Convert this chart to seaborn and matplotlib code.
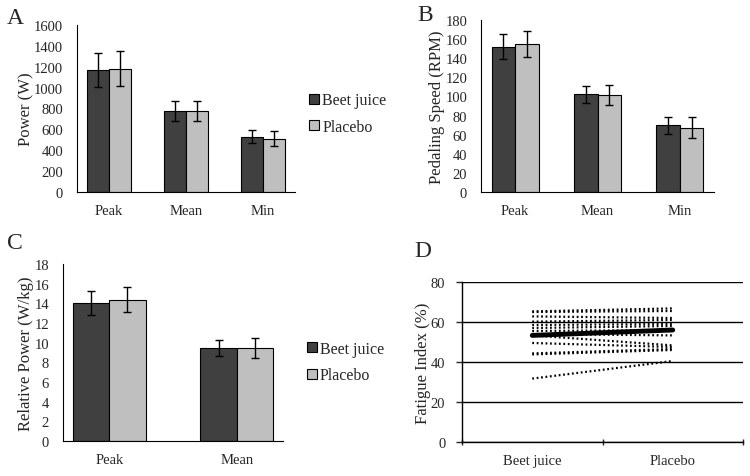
import numpy as np
import pandas as pd
import seaborn as sns
import matplotlib.pyplot as plt
from matplotlib.patches import Patch

# bar panel data (means and SD)
conditions = ['Beet juice', 'Placebo']
power_cats = ['Peak', 'Mean', 'Min']
power_beet = [1170, 780, 530]
power_plac = [1183, 775, 510]
power_beet_err = [165, 96, 65]
power_plac_err = [164, 98, 70]

speed_beet = [152, 102.4, 69.6]
speed_plac = [155, 102, 67.2]
speed_beet_err = [13, 9, 9.2]
speed_plac_err = [14, 10.5, 11]

rel_cats = ['Peak', 'Mean']
rel_beet = [14.07, 9.47]
rel_plac = [14.38, 9.44]
rel_beet_err = [1.22, 0.83]
rel_plac_err = [1.3, 1.0]

# fatigue index, individual subjects
fi_beet = [65.3, 65.0, 62.8, 60.2, 58.5, 57.0, 55.5, 54.0, 53.3, 49.5, 44.3, 43.8, 31.7]
fi_plac = [66.8, 65.5, 62.0, 61.0, 59.0, 58.0, 56.0, 53.3, 48.3, 47.5, 46.5, 46.0, 40.5]
fi_mean = [53.3, 56.0]

sns.set_style("white")
plt.rcParams['font.family'] = ['Liberation Serif', 'DejaVu Serif']
plt.rcParams['font.size'] = 10.5

dark = '#404040'
light = '#bfbfbf'
W, H = 750, 477

fig = plt.figure(figsize=(7.5, 4.77), dpi=100)


def box(l, r, t, b):
    return [l / W, (H - b) / H, (r - l) / W, (b - t) / H]


def bar_panel(ax, cats, beet, plac, beet_err, plac_err, ylim, step, ylabel):
    df = pd.DataFrame({
        'cat': cats * 2,
        'cond': ['Beet juice'] * len(cats) + ['Placebo'] * len(cats),
        'val': beet + plac,
    })
    sns.barplot(data=df, x='cat', y='val', hue='cond', hue_order=conditions,
                palette=[dark, light], width=0.57, edgecolor='black',
                linewidth=0.8, errorbar=None, legend=False, ax=ax)
    errs = beet_err + plac_err
    for i, p in enumerate(ax.patches[:len(errs)]):
        xc = p.get_x() + p.get_width() / 2
        ax.errorbar(xc, p.get_height(), yerr=errs[i], color='black',
                    capsize=3, elinewidth=1, capthick=1)
    ax.set_ylim(*ylim)
    ax.set_yticks(np.arange(ylim[0], ylim[1] + step / 2, step))
    ax.set_xlabel('')
    ax.set_ylabel(ylabel, fontsize=12, labelpad=0)
    for s in ['top', 'right']:
        ax.spines[s].set_visible(False)
    for s in ['left', 'bottom']:
        ax.spines[s].set_color('black')
        ax.spines[s].set_linewidth(0.8)
    ax.tick_params(length=0, labelsize=10.5)
    ax.tick_params(axis='x', pad=9)
    ax.tick_params(axis='y', pad=10)


def add_legend(ax, x, y):
    handles = [Patch(facecolor=dark, edgecolor='black', linewidth=0.8, label='Beet juice'),
               Patch(facecolor=light, edgecolor='black', linewidth=0.8, label='Placebo')]
    ax.legend(handles=handles, loc='center left', bbox_to_anchor=(x, y),
              frameon=False, handlelength=0.6, handleheight=0.6,
              handletextpad=0.2, labelspacing=0.65, fontsize=11.5)


# A
axA = fig.add_axes(box(77, 295, 26, 193))
bar_panel(axA, power_cats, power_beet, power_plac, power_beet_err, power_plac_err,
          (0, 1600), 200, 'Power (W)')
add_legend(axA, 1.0, 0.47)

# B
axB = fig.add_axes(box(481, 714, 21, 193))
bar_panel(axB, power_cats, speed_beet, speed_plac, speed_beet_err, speed_plac_err,
          (0, 180), 20, 'Pedaling Speed (RPM)')

# C
axC = fig.add_axes(box(63, 283, 265, 442))
bar_panel(axC, rel_cats, rel_beet, rel_plac, rel_beet_err, rel_plac_err,
          (0, 18), 2, 'Relative Power (W/kg)')
add_legend(axC, 1.045, 0.445)

# D
axD = fig.add_axes(box(462, 743, 283, 443))
n = len(fi_beet)
fi = pd.DataFrame({
    'subject': list(range(n)) * 2,
    'cond': ['Beet juice'] * n + ['Placebo'] * n,
    'val': fi_beet + fi_plac,
})
fi['x'] = fi['cond'].map({'Beet juice': 0, 'Placebo': 1})
sns.lineplot(data=fi, x='x', y='val', units='subject', estimator=None,
             color='black', linewidth=1.6, linestyle=(0, (0.8, 1.2)), ax=axD)
mean_df = pd.DataFrame({'x': [0, 1], 'val': fi_mean})
sns.lineplot(data=mean_df, x='x', y='val', color='black', linewidth=3.5, ax=axD)
axD.set_xlim(-0.5, 1.5)
axD.set_ylim(0, 80)
axD.set_yticks([0, 20, 40, 60, 80])
axD.set_xticks([0, 1])
axD.set_xticklabels(conditions)
axD.set_xticks([-0.5, 0.5, 1.5], minor=True)
axD.yaxis.grid(True, color='black', linewidth=1)
axD.set_axisbelow(True)
axD.set_xlabel('')
axD.set_ylabel('Fatigue Index (%)', fontsize=12, labelpad=0)
for s in ['top', 'right']:
    axD.spines[s].set_visible(False)
for s in ['left', 'bottom']:
    axD.spines[s].set_color('black')
    axD.spines[s].set_linewidth(1)
axD.tick_params(axis='x', which='major', length=0, pad=9, labelsize=10.5)
axD.tick_params(axis='x', which='minor', length=4, direction='inout', bottom=True, width=1)
axD.tick_params(axis='y', length=4, direction='out', left=True, width=1, labelsize=10.5, pad=8)

# panel letters
for lbl, x, y in [('A', 7, 8), ('B', 417, 5), ('C', 7, 233), ('D', 414, 241)]:
    fig.text(x / W, 1 - y / H, lbl, fontsize=17, va='top', ha='left')

fig.savefig('out.png', dpi=100)
